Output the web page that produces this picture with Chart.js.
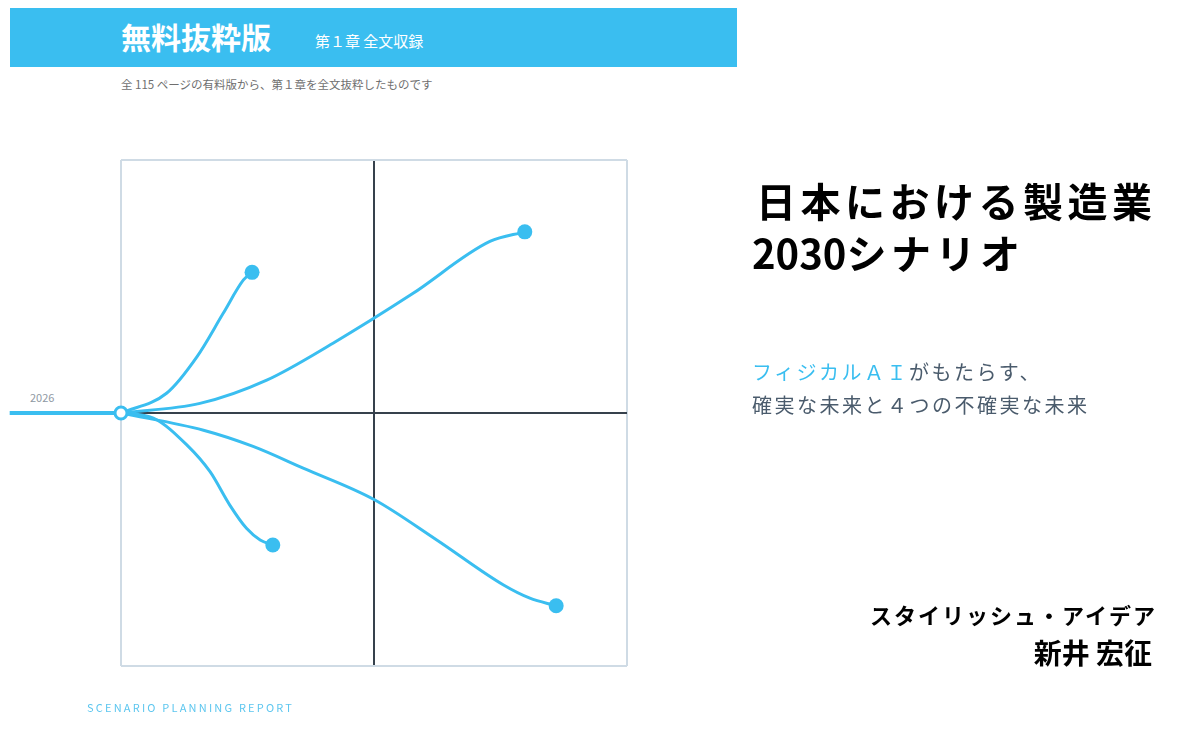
<!DOCTYPE html>
<html><head><meta charset="utf-8">
<script src="https://cdn.jsdelivr.net/npm/chart.js@4.4.1/dist/chart.umd.min.js"></script>
<style>
html,body{margin:0;padding:0;background:#fff}
body{width:1200px;height:744px;position:relative;overflow:hidden;font-family:"Noto Sans CJK JP","Noto Sans",sans-serif}
#c{position:absolute;left:0;top:0}
.t{position:absolute;white-space:nowrap;line-height:1}
</style></head><body>
<div style="position:absolute;left:10px;top:8px;width:727px;height:59px;background:#3abef0"></div>
<div class="t" style="left:121px;top:21px;font-size:30px;font-weight:bold;color:#fff">無料抜粋版</div>
<div class="t" style="left:315px;top:33px;font-size:15px;color:#fff">第１章 全文収録</div>
<div class="t" style="left:121px;top:79px;font-size:11.5px;color:#6f6f6f">全 115 ページの有料版から、第１章を全文抜粋したものです</div>
<div class="t" style="left:30px;top:392px;font-size:11px;color:#8f99a3">2026</div>
<canvas id="c" width="1200" height="744"></canvas>
<div class="t" style="left:756px;top:180px;font-size:40px;font-weight:bold;letter-spacing:4.5px;color:#000">日本における製造業</div>
<div class="t" style="left:752px;top:232px;font-size:40px;font-weight:bold;letter-spacing:4.5px;color:#000"><span style="letter-spacing:0">2030</span>シナリオ</div>
<div class="t" style="left:752px;top:362px;font-size:20px;letter-spacing:2.5px;color:#4a5b6c"><span style="color:#3abef0">フィジカルＡＩ</span>がもたらす、</div>
<div class="t" style="left:752px;top:395px;font-size:20px;letter-spacing:2.5px;color:#4a5b6c">確実な未来と４つの不確実な未来</div>
<div class="t" style="right:43px;top:603px;font-size:22px;font-weight:bold;letter-spacing:2px;color:#000">スタイリッシュ・アイデア</div>
<div class="t" style="right:48px;top:638px;font-size:28px;font-weight:bold;color:#000">新井 宏征</div>
<div class="t" style="left:87px;top:702px;font-size:11px;letter-spacing:2.2px;color:#5cc6ef">SCENARIO PLANNING REPORT</div>
<script>
// Scenario paths (x: progress 0-100, y: -50..50)
const leadX = [-22, 0];
const leadY = [0, 0];
const s1X = [0, 9.0, 15.0, 20.2, 24.2, 25.9];
const s1Y = [0, 3.9, 11.1, 19.7, 26.3, 27.8];
const s2X = [0, 15.6, 28.8, 41.9, 57.5, 72.9, 79.8];
const s2Y = [0, 1.9, 6.5, 13.8, 23.5, 33.9, 35.8];
const s3X = [0, 6.4, 13.0, 17.6, 21.5, 24.8, 27.5, 30.0];
const s3Y = [0, -1.0, -6.3, -11.6, -18.2, -22.8, -25.1, -26.1];
const s4X = [0, 16.3, 26.1, 36.0, 50.0, 62.4, 75.6, 80.8, 86.0];
const s4Y = [0, -3.4, -6.6, -10.9, -17.1, -25.1, -34.0, -36.6, -38.1];
const originX = [0];
const originY = [0];

const BLUE = '#3abef0';
const pts = (xs, ys) => xs.map((x, i) => ({x, y: ys[i]}));
const curve = (xs, ys) => ({
  data: pts(xs, ys),
  borderColor: BLUE,
  borderWidth: 3,
  fill: false,
  tension: 0.4,
  cubicInterpolationMode: 'monotone',
  pointRadius: xs.map((_, i) => i === xs.length - 1 ? 7.5 : 0),
  pointBackgroundColor: BLUE,
  pointBorderWidth: 0,
  clip: false,
  order: 2
});

new Chart(document.getElementById('c'), {
  type: 'line',
  data: {
    datasets: [
      {data: pts(leadX, leadY), borderColor: BLUE, borderWidth: 4, pointRadius: 0, clip: false, fill: false, order: 3},
      curve(s1X, s1Y),
      curve(s2X, s2Y),
      curve(s3X, s3Y),
      curve(s4X, s4Y),
      {data: pts(originX, originY), showLine: false, pointRadius: 6, pointBorderWidth: 3, pointBorderColor: BLUE, pointBackgroundColor: '#fff', clip: false, order: 0}
    ]
  },
  options: {
    responsive: false,
    animation: false,
    devicePixelRatio: 1,
    layout: {padding: {left: 121, top: 160, right: 573, bottom: 78}},
    plugins: {legend: {display: false}, tooltip: {enabled: false}},
    scales: {
      x: {
        type: 'linear', min: 0, max: 100,
        ticks: {display: false, stepSize: 50},
        border: {display: false},
        grid: {drawTicks: false, lineWidth: 2, color: c => c.tick && c.tick.value === 50 ? '#36414c' : '#cfdbe5'}
      },
      y: {
        type: 'linear', min: -50, max: 50,
        ticks: {display: false, stepSize: 50},
        border: {display: false},
        grid: {drawTicks: false, lineWidth: 2, color: c => c.tick && c.tick.value === 0 ? '#36414c' : '#cfdbe5'}
      }
    }
  }
});
</script>
</body></html>
